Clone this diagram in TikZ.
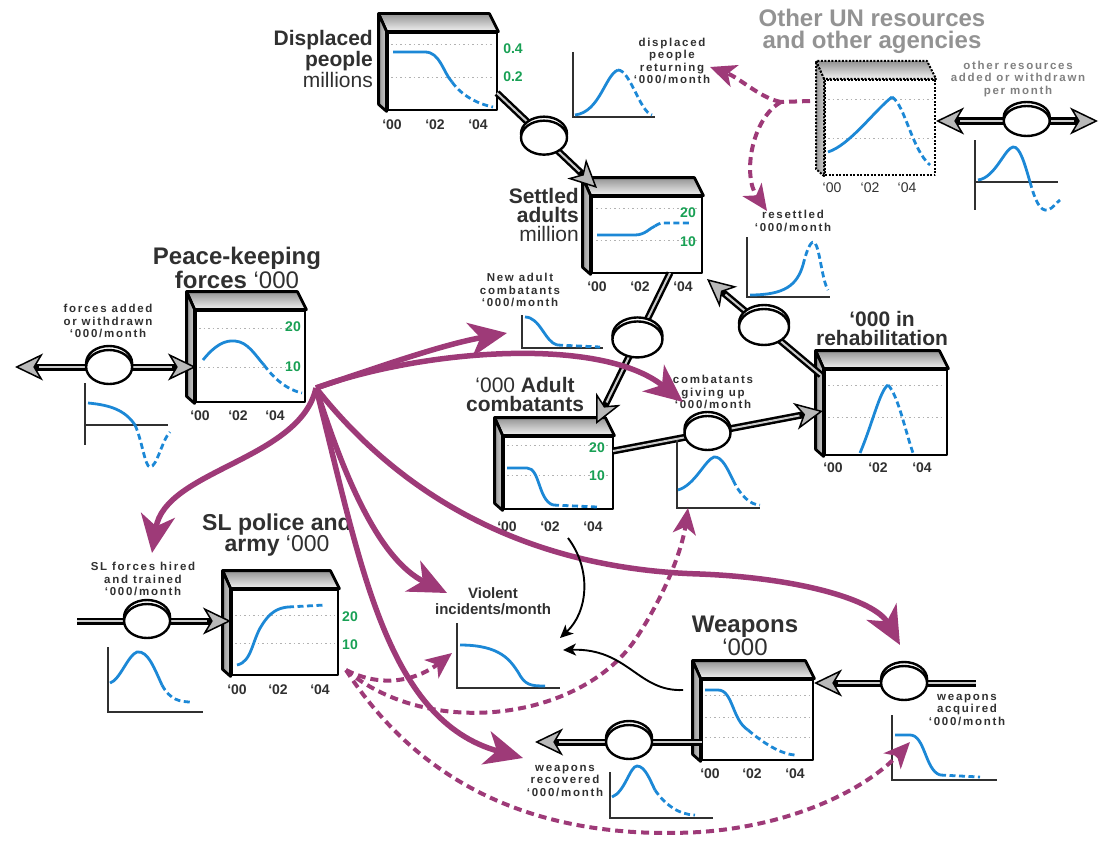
\documentclass[tikz,border=0pt]{standalone}
\usepackage{fontspec}
\setmainfont{Liberation Sans}
\newfontfamily\lblfont[LetterSpace=15]{Liberation Sans}
\usetikzlibrary{arrows.meta,shapes.geometric,calc}
\definecolor{plum}{RGB}{158,58,120}
\definecolor{trendblue}{RGB}{28,136,214}
\definecolor{scalegreen}{RGB}{24,160,84}
\definecolor{ink}{RGB}{48,48,48}

\begin{document}
\begin{tikzpicture}[x=1pt, y=-1pt,
  stock/.style={rectangle, draw=black, line width=2.8pt, fill=white, inner sep=0pt, line join=round},
  dotstock/.style={stock, line width=2pt, dash pattern=on 2pt off 1.5pt},
  topface/.style={draw=black, line width=2.8pt, line join=round, top color=gray!85, bottom color=gray!10},
  sideface/.style={draw=black, line width=2.8pt, line join=round, left color=gray!80, right color=gray!40},
  gridline/.style={gray!60, line width=1pt, dash pattern=on 1.5pt off 3pt},
  trend/.style={trendblue, line width=2.8pt},
  trenddash/.style={trend, dash pattern=on 6pt off 3.5pt},
  miniaxis/.style={ink, line width=1.6pt},
  stocktitle/.style={ink, font=\bfseries\fontsize{21}{19}\selectfont, align=center, inner sep=0pt},
  flowlabel/.style={ink, font=\lblfont\bfseries\fontsize{11.5}{12.5}\selectfont, align=center, inner sep=0pt},
  yeartext/.style={ink, font=\bfseries\fontsize{14}{14}\selectfont, inner sep=0pt},
  scaletext/.style={scalegreen, font=\bfseries\fontsize{14}{14}\selectfont, inner sep=0pt},
  valve/.style={ellipse, draw=black, line width=2.4pt, fill=white, minimum width=46pt, minimum height=34pt, inner sep=0pt,
    preaction={draw=black, line width=2.4pt, fill=white, transform canvas={yshift=4pt}}},
  pipetip/.tip={Stealth[length=28pt, width=27pt, inset=8pt, fill=gray!55, line width=1.5pt]},
  bigtip/.tip={Stealth[length=38pt, width=34pt, inset=11pt]},
  dashtip/.tip={Stealth[length=26pt, width=23pt, inset=7pt]},
  thintip/.tip={Stealth[length=13pt, width=12pt, inset=3.5pt]},
  pipe/.style={draw=black, line width=7pt},
  pipecore/.style={draw=gray!40, line width=2pt},
  link/.style={plum, line width=5.5pt, -bigtip},
  dashlink/.style={plum, line width=4pt, dash pattern=on 8pt off 5pt, -dashtip},
  cause/.style={black, line width=1.9pt, -thintip}]
\useasboundingbox (0,0) rectangle (1099,840);

% pipe ends
\coordinate (pkOut) at (15,367);
\coordinate (pkIn) at (196,367);
\coordinate (slOut) at (77,621);
\coordinate (slIn) at (231,621);
\coordinate (dispOut) at (497,93);
\coordinate (settledIn) at (597,188);
\coordinate (settledOut) at (670,273);
\coordinate (adultIn) at (596,424);
\coordinate (rehabOut) at (821,375);
\coordinate (settledBack) at (707,279);
\coordinate (adultOut) at (613,451);
\coordinate (rehabIn) at (823,411);
\coordinate (acqOut) at (976,683);
\coordinate (weapIn) at (814,683);
\coordinate (weapOut) at (702,742);
\coordinate (recOut) at (535,742);
\coordinate (otherIn) at (936,121);
\coordinate (otherOut) at (1098,121);

% stocks
\node[stock, minimum width=109pt, minimum height=77pt] (disp) at (442.5,71.5) {};
\node[stock, minimum width=110pt, minimum height=76pt] (settled) at (647,235) {};
\node[stock, minimum width=109pt, minimum height=91pt] (peace) at (250.5,356.5) {};
\node[stock, minimum width=109pt, minimum height=72pt] (adult) at (558.5,473) {};
\node[stock, minimum width=122pt, minimum height=85pt] (rehab) at (886,412.5) {};
\node[stock, minimum width=106pt, minimum height=85pt] (slpol) at (285,632.5) {};
\node[stock, minimum width=111pt, minimum height=80pt] (weap) at (757.5,720) {};
\node[dotstock, minimum width=110pt, minimum height=95pt] (otherun) at (880,127.5) {};

\foreach \b in {disp,settled,peace,adult,rehab,slpol,weap}{
  \draw[topface] (\b.north west) -- ++(-8,-18) -- ($(\b.north east)+(-9,-18)$) -- (\b.north east) -- cycle;
  \draw[sideface] (\b.north west) -- ++(-8,-18) -- ($(\b.south west)+(-8,-7)$) -- (\b.south west) -- cycle;
}
\draw[topface, line width=2pt, dash pattern=on 2pt off 1.5pt] (otherun.north west) -- ++(-8,-18) -- ($(otherun.north east)+(-9,-18)$) -- (otherun.north east) -- cycle;
\draw[sideface, line width=2pt, dash pattern=on 2pt off 1.5pt] (otherun.north west) -- ++(-8,-18) -- ($(otherun.south west)+(-8,-7)$) -- (otherun.south west) -- cycle;

% grid lines
\foreach \y in {45,78} \draw[gridline] (391,\y) -- (494,\y);
\foreach \y in {208,240} \draw[gridline] (596,\y) -- (699,\y);
\foreach \y in {328,367} \draw[gridline] (199,\y) -- (302,\y);
\foreach \y in {445,475} \draw[gridline] (507,\y) -- (610,\y);
\foreach \y in {385,417} \draw[gridline] (828,\y) -- (944,\y);
\foreach \y in {615,643} \draw[gridline] (235,\y) -- (335,\y);
\foreach \y in {695,717,737} \draw[gridline] (705,\y) -- (810,\y);
\foreach \y in {100,138} \draw[gridline] (828,\y) -- (932,\y);

% trends inside the stocks
\draw[trend] (393,52) -- (425,52) .. controls (440,52) and (443,72) .. (452,82);
\draw[trenddash] (452,82) .. controls (462,96) and (478,104) .. (493,107);
\draw[trend] (597,235) -- (635,235) .. controls (645,235) and (650,228) .. (655,226);
\draw[trenddash] (655,226) .. controls (660,223) .. (668,223) -- (690,223);
\draw[trend] (203,360) .. controls (215,345) and (225,340) .. (235,341) .. controls (248,342) and (255,355) .. (264,365);
\draw[trenddash] (264,365) .. controls (275,380) and (288,390) .. (302,393);
\draw[trend] (507,468) -- (527,468) .. controls (540,468) and (538,500) .. (553,505);
\draw[trenddash] (553,505) -- (597,507);
\draw[trend] (860,453) .. controls (872,425) and (880,390) .. (888,385);
\draw[trenddash] (888,385) .. controls (898,395) and (905,430) .. (913,453);
\draw[trend] (237,665) .. controls (252,662) and (252,640) .. (262,625) .. controls (270,612) and (278,608) .. (288,607);
\draw[trenddash] (288,607) -- (325,605);
\draw[trend] (705,690) -- (718,690) .. controls (733,690) and (732,720) .. (748,730);
\draw[trenddash] (748,730) .. controls (762,742) and (780,754) .. (795,755);
\draw[trend] (828,152) .. controls (850,145) and (875,110) .. (892,97);
\draw[trenddash] (892,97) .. controls (905,105) and (912,150) .. (930,165);

% scales
\node[scaletext] (disp4) at (513,49) {0.4};
\node[scaletext] (disp2) at (513,77) {0.2};
\node[scaletext] (settled20) at (688,213) {20};
\node[scaletext] (settled10) at (688,242) {10};
\node[scaletext] (peace20) at (293,327) {20};
\node[scaletext] (peace10) at (293,367) {10};
\node[scaletext] (adult20) at (597,448) {20};
\node[scaletext] (adult10) at (597,476) {10};
\node[scaletext] (slpol20) at (350,617) {20};
\node[scaletext] (slpol10) at (350,645) {10};

% years
\foreach \x/\t in {392/‘00,435/‘02,478/‘04} \node[yeartext] (dispyr\x) at (\x,125) {\t};
\foreach \x/\t in {597/‘00,640/‘02,683/‘04} \node[yeartext] (settledyr\x) at (\x,287) {\t};
\foreach \x/\t in {200/‘00,238/‘02,275/‘04} \node[yeartext] (peaceyr\x) at (\x,416) {\t};
\foreach \x/\t in {507/‘00,550/‘02,593/‘04} \node[yeartext] (adultyr\x) at (\x,527) {\t};
\foreach \x/\t in {833/‘00,878/‘02,922/‘04} \node[yeartext] (rehabyr\x) at (\x,468) {\t};
\foreach \x/\t in {237/‘00,278/‘02,320/‘04} \node[yeartext] (slpolyr\x) at (\x,690) {\t};
\foreach \x/\t in {710/‘00,752/‘02,795/‘04} \node[yeartext] (weapyr\x) at (\x,774) {\t};
\foreach \x/\t in {832/‘00,870/‘02,907/‘04} \node[yeartext, font=\fontsize{14}{14}\selectfont] (otheryr\x) at (\x,188) {\t};

% titles
\node[stocktitle, align=right, anchor=east] (dispTitle) at (373,59) {Displaced\\people\\{\mdseries millions}};
\node[stocktitle, align=right, anchor=east] (settledTitle) at (579,215) {Settled\\adults\\{\mdseries million}};
\node[stocktitle, font=\bfseries\fontsize{24}{21}\selectfont] (peaceTitle) at (237,268) {Peace-keeping\\forces {\mdseries ‘000}};
\node[stocktitle] (adultTitle) at (525,394) {{\mdseries ‘000} Adult\\combatants};
\node[stocktitle] (rehabTitle) at (882,328) {‘000 in\\rehabilitation};
\node[stocktitle, font=\bfseries\fontsize{23}{20}\selectfont] (slTitle) at (277,535) {SL police and\\army {\mdseries ‘000}};
\node[stocktitle, font=\bfseries\fontsize{24}{21}\selectfont] (weapTitle) at (745,636) {Weapons\\{\mdseries ‘000}};
\node[stocktitle, text=gray!85, font=\bfseries\fontsize{24}{22}\selectfont] (otherTitle) at (872,31) {Other UN resources\\and other agencies};

% pipes
\foreach \a/\b in {slOut/slIn, dispOut/settledIn, settledOut/adultIn, rehabOut/settledBack, adultOut/rehabIn, acqOut/weapIn, weapOut/recOut}{
  \draw[pipe, -pipetip] (\a) -- (\b);
  \draw[pipecore, shorten >=24pt] (\a) -- (\b);
}
\foreach \a/\b in {pkOut/pkIn, otherIn/otherOut}{
  \draw[pipe, pipetip-pipetip] (\a) -- (\b);
  \draw[pipecore, shorten >=24pt, shorten <=24pt] (\a) -- (\b);
}

% valves
\node[valve] (vPeace) at ($(pkOut)!0.52!(pkIn)$) {};
\node[valve] (vSL) at ($(slOut)!0.455!(slIn)$) {};
\node[valve] (vDisp) at ($(dispOut)!0.47!(settledIn)$) {};
\node[valve, minimum width=50pt, minimum height=36pt] (vNew) at ($(settledOut)!0.44!(adultIn)$) {};
\node[valve, minimum width=50pt, minimum height=36pt] (vBack) at ($(rehabOut)!0.5!(settledBack)$) {};
\node[valve] (vGive) at ($(adultOut)!0.45!(rehabIn)$) {};
\node[valve] (vAcq) at ($(acqOut)!0.444!(weapIn)$) {};
\node[valve] (vRec) at ($(weapOut)!0.437!(recOut)$) {};
\node[valve, minimum height=30pt] (vOther) at ($(otherIn)!0.56!(otherOut)$) {};

% flow labels
\node[flowlabel] (pkLabel) at (108,321) {forces added\\or withdrawn\\‘000/month};
\node[flowlabel] (slLabel) at (143,579) {SL forces hired\\and trained\\‘000/month};
\node[flowlabel] (retLabel) at (672,61) {displaced\\people\\returning\\‘000/month};
\node[flowlabel] (resLabel) at (793,221) {resettled\\‘000/month};
\node[flowlabel, text=gray] (otherLabel) at (1018,79) {other resources\\added or withdrawn\\per month};
\node[flowlabel] (newLabel) at (520,290) {New adult\\combatants\\‘000/month};
\node[flowlabel] (giveLabel) at (713,392) {combatants\\giving up\\‘000/month};
\node[flowlabel] (acqLabel) at (967,710) {weapons\\acquired\\‘000/month};
\node[flowlabel] (recLabel) at (565,781) {weapons\\recovered\\‘000/month};
\node[ink, font=\bfseries\fontsize{15}{16}\selectfont, align=center, inner sep=0pt] (violLabel) at (493,601) {Violent\\incidents/month};

% small graphs
\draw[miniaxis] (85,383) -- (85,445) (85,425) -- (168,425);
\draw[trend] (88,403) .. controls (110,405) and (125,410) .. (135,425);
\draw[trenddash] (135,425) .. controls (142,440) and (145,467) .. (150,467) .. controls (157,467) and (162,440) .. (170,432);
\draw[miniaxis] (108,647) -- (108,712) -- (203,712);
\draw[trend] (110,683) .. controls (120,680) and (128,655) .. (137,652) .. controls (148,650) and (155,670) .. (162,685);
\draw[trenddash] (162,685) .. controls (170,700) and (180,702) .. (192,702);
\draw[miniaxis] (573,52) -- (573,117) -- (655,117);
\draw[trend] (575,115) .. controls (600,112) and (605,75) .. (618,70);
\draw[trenddash] (618,70) .. controls (630,70) and (640,112) .. (652,115);
\draw[miniaxis] (747,237) -- (747,297) -- (830,297);
\draw[trend] (750,295) .. controls (785,295) and (797,285) .. (803,265);
\draw[trenddash] (803,265) .. controls (808,245) and (812,240) .. (815,243) .. controls (820,250) and (822,280) .. (828,290);
\draw[miniaxis] (522,315) -- (522,348) -- (603,348);
\draw[trend] (525,317) .. controls (540,317) and (545,342) .. (557,345);
\draw[trenddash] (557,345) -- (600,347);
\draw[miniaxis] (677,440) -- (677,508) -- (760,508);
\draw[trend] (678,490) .. controls (695,485) and (705,460) .. (714,457) .. controls (722,456) and (728,470) .. (733,480);
\draw[trenddash] (733,480) .. controls (740,495) and (750,505) .. (760,505);
\draw[miniaxis] (975,140) -- (975,210) (975,182) -- (1058,182);
\draw[trend] (978,180) .. controls (995,178) and (1005,148) .. (1013,147) .. controls (1020,146) and (1025,165) .. (1030,182);
\draw[trenddash] (1030,182) .. controls (1035,200) and (1040,212) .. (1048,210) .. controls (1053,208) and (1056,203) .. (1060,200);
\draw[miniaxis] (457,623) -- (457,688) -- (560,688);
\draw[trend] (460,645) .. controls (500,645) and (510,660) .. (518,672) .. controls (525,685) and (530,686) .. (545,686);
\draw[miniaxis] (892,715) -- (892,780) -- (997,780);
\draw[trend] (895,735) -- (910,735) .. controls (925,735) and (925,770) .. (940,775);
\draw[trenddash] (940,775) -- (980,777);
\draw[miniaxis] (610,772) -- (610,818) -- (713,818);
\draw[trend] (612,797) .. controls (625,792) and (630,766) .. (637,766) .. controls (645,766) and (650,780) .. (655,790);
\draw[trenddash] (655,790) .. controls (665,805) and (680,815) .. (695,815);

% influence ends
\coordinate (hub) at (316,388);
\coordinate (newTip) at (507,333);
\coordinate (giveTip) at (683,402);
\coordinate (slTip) at (152,553);
\coordinate (violTip) at (447,593);
\coordinate (recTip) at (523,758);
\coordinate (acqTip) at (900,645);
\coordinate (slDash) at (346,670);
\coordinate (violDashTip) at (452,653);
\coordinate (giveDashTip) at (688,508);
\coordinate (acqDashTip) at (910,742);
\coordinate (unOut) at (810,101);
\coordinate (unFork) at (781,102);
\coordinate (retTip) at (710,67);
\coordinate (resTip) at (767,211);
\coordinate (adultCause) at (568,538);
\coordinate (violIn) at (560,638);
\coordinate (weapCause) at (683,690);
\coordinate (violSide) at (563,650);

% influences
\draw[link] (hub) .. controls (370,370) and (440,345) .. (newTip);
\draw[link] (hub) .. controls (420,350) and (600,335) .. (giveTip);
\draw[link] (hub) .. controls (300,460) and (165,470) .. (slTip);
\draw[link] (hub) .. controls (345,480) and (380,560) .. (violTip);
\draw[link] (hub) .. controls (360,560) and (385,720) .. (recTip);
\draw[link] (hub) .. controls (420,520) and (560,570) .. (700,574) .. controls (800,578) and (875,600) .. (acqTip);
\draw[dashlink] (slDash) .. controls (385,690) and (420,678) .. (violDashTip);
\draw[dashlink] (slDash) .. controls (430,740) and (580,720) .. (635,640) .. controls (665,595) and (682,550) .. (giveDashTip);
\draw[dashlink] (slDash) .. controls (430,800) and (560,840) .. (700,832) .. controls (800,825) and (870,785) .. (acqDashTip);
\draw[dashlink, -] (unOut) -- (unFork);
\draw[dashlink] (unFork) .. controls (760,98) and (740,78) .. (retTip);
\draw[dashlink] (unFork) .. controls (752,118) and (742,175) .. (resTip);
\draw[cause] (adultCause) .. controls (592,570) and (588,612) .. (violIn);
\draw[cause] (weapCause) .. controls (638,692) and (628,648) .. (violSide);
\end{tikzpicture}
\end{document}
